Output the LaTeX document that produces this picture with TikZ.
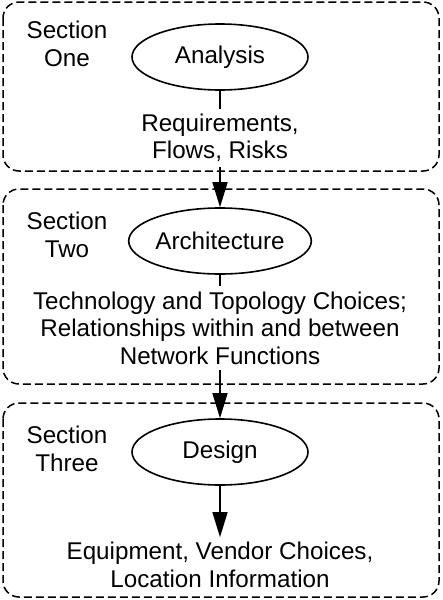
\documentclass[tikz,border=0pt]{standalone}
\usepackage{fontspec}
\setmainfont{Liberation Sans}
\usetikzlibrary{arrows.meta,shapes.geometric}
\begin{document}
\begin{tikzpicture}[x=1pt,y=-1pt,
  font=\fontsize{24.2}{27.5}\selectfont,
  sect/.style={draw,line width=1.5pt,dash pattern=on 8pt off 4pt,rounded corners=16pt},
  oval/.style={draw,ellipse,line width=1.6pt,minimum width=176pt,minimum height=66pt,inner sep=0pt},
  lbl/.style={align=center,inner sep=0pt},
  tick/.style={line width=1.5pt},
  arr/.style={line width=1.5pt,-{Triangle[length=25pt,width=15pt]}}]
\useasboundingbox (0,0) rectangle (442,600);
% section boxes
\draw[sect] (3,2) rectangle (439,171);
\draw[sect] (3,189) rectangle (439,384);
\draw[sect] (3,403) rectangle (439,597);
% section labels
\node[lbl] (s1) at (67,44) {Section\\One};
\node[lbl] (s2) at (67,235) {Section\\Two};
\node[lbl] (s3) at (67,449) {Section\\Three};
% ellipses
\node[oval] (e1) at (220,57) {Analysis};
\node[oval] (e2) at (220,241) {Architecture};
\node[oval] (e3) at (220,452) {Design};
% outputs
\node[lbl,inner ysep=5pt] (t1) at (220,138) {Requirements,\\Flows, Risks};
\node[lbl,inner ysep=5pt] (t2) at (220,328) {Technology and Topology Choices;\\Relationships within and between\\Network Functions};
\node[lbl,inner ysep=5pt] (t3) at (220,565) {Equipment, Vendor Choices,\\Location Information};
% connectors
\draw[tick] (e1.south) -- (t1.north);
\draw[tick] (e2.south) -- (t2.north);
\draw[arr] (t1.south) -- (e2.north);
\draw[arr] (t2.south) -- (e3.north);
\draw[arr] (e3.south) -- (t3.north);
\end{tikzpicture}
\end{document}
